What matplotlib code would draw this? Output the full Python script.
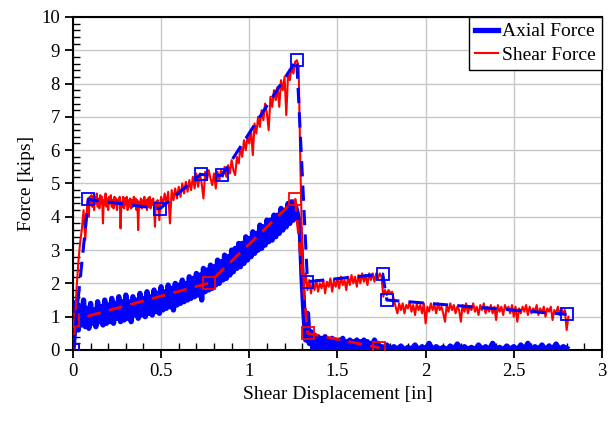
import numpy as np
import matplotlib
matplotlib.use("Agg")
import matplotlib.pyplot as plt
import matplotlib.ticker as tck

plt.rcParams['font.family'] = ['Liberation Serif', 'DejaVu Serif']

# raw axial force, typed as segments (x start, x end, readings)
axial_segments = [
    (0.00, 0.09, [0.0, 0.65, 1.45, 0.6, 1.3, 0.75, 1.5, 0.7, 1.25, 0.65]),
    (0.10, 0.19, [1.4, 0.8, 1.2, 0.7, 1.45, 0.85, 1.3, 0.75, 1.5, 0.8]),
    (0.20, 0.29, [1.35, 0.85, 1.55, 0.8, 1.4, 0.95, 1.6, 0.85, 1.45, 0.9]),
    (0.30, 0.39, [1.65, 0.95, 1.45, 0.85, 1.6, 1.05, 1.5, 0.95, 1.7, 1.05]),
    (0.40, 0.49, [1.55, 1.0, 1.75, 1.1, 1.6, 1.05, 1.8, 1.15, 1.7, 1.1]),
    (0.50, 0.59, [1.9, 1.2, 1.75, 1.25, 1.95, 1.3, 1.85, 1.2, 2.0, 1.35]),
    (0.60, 0.69, [1.95, 1.4, 2.1, 1.45, 2.0, 1.5, 2.2, 1.55, 2.15, 1.6]),
    (0.70, 0.79, [2.3, 1.65, 2.25, 1.5, 2.45, 1.75, 2.4, 1.8, 2.55, 1.85]),
    (0.80, 0.89, [2.5, 1.95, 2.7, 2.0, 2.65, 2.1, 2.85, 2.15, 2.8, 2.25]),
    (0.90, 0.99, [3.0, 2.35, 3.05, 2.45, 3.2, 2.5, 3.2, 2.6, 3.4, 2.7]),
    (1.00, 1.09, [3.35, 2.8, 3.55, 2.9, 3.5, 3.0, 3.75, 3.05, 3.7, 3.15]),
    (1.10, 1.19, [3.9, 3.25, 3.9, 3.3, 4.05, 3.4, 4.05, 3.5, 4.25, 3.6]),
    (1.20, 1.29, [4.2, 3.7, 4.4, 3.8, 4.45, 3.9, 4.35, 4.15, 3.9, 3.5]),
    (1.30, 1.33, [2.1, 1.1, 0.3, 1.1]),
    (1.34, 1.75, [0.2, 0.55, 0.05, 0.45, 0.0, 0.4, 0.05, 0.35, 0.0, 0.4, 0.05,
                  0.3, 0.0, 0.35, 0.05, 0.3, -0.05, 0.3, 0.0, 0.35, 0.05, 0.25,
                  0.0, 0.3, -0.05, 0.25, 0.0, 0.3, 0.0, 0.25, -0.05, 0.3, 0.0,
                  0.25, 0.0, 0.2, -0.05, 0.3, 0.0, 0.2, 0.0, 0.1]),
    (1.76, 2.80, [0.05, 0.15, 0.0, 0.1, 0.02, 0.12, 0.0, 0.08, 0.02, 0.15, 0.0,
                  0.1, 0.02, 0.2, 0.0, 0.1, 0.02, 0.08, 0.0, 0.12, 0.02, 0.18,
                  0.0, 0.1, 0.02, 0.08, 0.0, 0.15, 0.02, 0.1, 0.0, 0.2, 0.02,
                  0.08, 0.0, 0.12, 0.02, 0.1, 0.0, 0.15, 0.02, 0.2, 0.0, 0.1,
                  0.02, 0.15, 0.0, 0.12, 0.02, 0.18, 0.0, 0.1, 0.05]),
]

# raw shear force
shear_segments = [
    (0.00, 0.07, [-0.1, 0.5, 1.8, 2.6, 3.2, 3.6, 4.2, 3.3]),
    (0.08, 0.50, [4.3, 4.55, 4.0, 4.6, 4.35, 4.65, 4.3, 4.5, 4.2, 4.6,
                  4.4, 4.7, 4.3, 4.55, 4.25, 4.65, 4.4, 4.6, 3.8, 4.5,
                  4.35, 4.7, 4.3, 4.55, 4.2, 4.6, 4.4, 4.65, 4.3, 4.5,
                  4.25, 4.6, 4.35, 4.55, 4.2, 4.5, 4.4, 4.6, 3.65, 4.45,
                  4.3, 4.6, 4.25, 4.55, 4.35, 4.6, 4.2, 4.5, 4.3, 4.55,
                  4.25, 4.5, 4.3, 4.6, 4.35, 4.55, 4.2, 4.5, 3.6, 4.45,
                  4.3, 4.55, 4.25, 4.5, 4.35, 4.6, 4.3, 4.5, 4.2, 4.55,
                  4.3, 4.6, 4.25, 4.5, 4.35, 4.55, 4.3, 3.7, 4.45, 4.3,
                  4.5, 4.2, 3.9, 4.4, 4.6]),
    (0.51, 0.59, [4.35, 4.7, 4.4, 4.75, 3.8, 4.8, 4.5, 4.85, 4.55]),
    (0.60, 0.69, [4.9, 4.6, 5.0, 4.7, 5.05, 4.75, 5.1, 4.8, 5.2, 4.85]),
    (0.70, 0.79, [5.3, 4.9, 5.3, 5.0, 4.55, 5.35, 5.1, 5.4, 5.15, 4.95]),
    (0.80, 0.89, [5.3, 4.85, 5.35, 5.1, 5.4, 5.2, 5.5, 5.2, 5.55, 5.3]),
    (0.90, 0.99, [5.7, 5.4, 5.25, 5.8, 5.6, 6.1, 5.8, 6.3, 6.0, 6.4]),
    (1.00, 1.09, [6.2, 6.6, 5.85, 6.8, 6.5, 7.0, 6.7, 7.2, 6.9, 7.4]),
    (1.10, 1.19, [7.1, 6.6, 7.6, 7.3, 7.8, 7.5, 7.9, 7.3, 8.1, 7.8]),
    (1.20, 1.27, [8.2, 7.05, 8.3, 8.1, 8.5, 8.3, 8.65, 8.7]),
    (1.28, 1.31, [8.5, 5.5, 3.0, 1.9]),
    (1.32, 1.75, [2.3, 1.8, 2.1, 1.7, 2.05, 1.8, 2.1, 1.75, 2.0, 1.85, 2.1,
                  1.7, 2.05, 1.9, 2.15, 1.75, 2.1, 1.9, 2.15, 1.85, 2.2, 1.95,
                  2.1, 1.8, 2.2, 1.95, 2.25, 2.0, 2.2, 1.9, 2.25, 2.0, 2.3,
                  2.05, 2.25, 1.95, 2.3, 2.1, 2.3, 2.05, 2.3, 2.15, 2.3, 2.2]),
    (1.76, 1.85, [1.6, 1.8, 1.65, 1.8, 1.7, 1.75, 1.5, 1.3, 1.1, 1.4]),
    (1.86, 2.78, [1.2, 1.4, 1.1, 1.35, 1.25, 1.45, 1.15, 1.35, 1.05, 1.4,
                  1.2, 1.35, 1.1, 1.4, 0.8, 1.3, 1.15, 1.4, 1.2, 1.35,
                  1.1, 1.4, 1.2, 1.3, 1.1, 0.85, 1.35, 1.15, 1.4, 1.2,
                  1.35, 1.1, 1.3, 1.2, 0.85, 1.35, 1.15, 1.4, 1.1, 1.3,
                  1.2, 1.4, 1.15, 1.3, 1.05, 1.35, 1.2, 1.4, 1.1, 1.3,
                  1.15, 1.35, 1.1, 1.3, 0.9, 1.35, 1.15, 1.3, 1.05, 1.35,
                  1.2, 1.3, 1.1, 1.35, 1.0, 1.3, 0.85, 1.25, 1.1, 1.3,
                  1.15, 1.35, 1.05, 1.3, 1.1, 1.25, 1.15, 1.35, 1.05, 1.25,
                  1.1, 1.3, 1.0, 1.25, 1.15, 1.3, 0.9, 1.2, 1.1, 1.3,
                  1.05, 1.25, 1.1]),
    (2.79, 2.81, [1.2, 0.6, 1.0]),
]

# bilinear fits with marked points
shear_fit_x = [0.0, 0.087, 0.493, 0.724, 0.845, 1.269, 1.33, 1.757, 1.78, 2.80]
shear_fit_y = [0.0, 4.52, 4.24, 5.27, 5.24, 8.72, 2.05, 2.28, 1.5, 1.07]
axial_fit_x = [0.0, 0.003, 0.771, 1.261, 1.331, 1.736]
axial_fit_y = [0.0, 0.9, 2.01, 4.52, 0.5, 0.07]


def build(segments):
    xs, ys = [], []
    for x0, x1, vals in segments:
        xs.append(np.linspace(x0, x1, len(vals)))
        ys.append(np.array(vals))
    return np.concatenate(xs), np.concatenate(ys)


ax_x, ax_y = build(axial_segments)
sh_x, sh_y = build(shear_segments)

fig = plt.figure(figsize=(6.08, 4.23), dpi=100)
ax = fig.add_axes([0.120, 0.1726, 0.870, 0.7874])

ax.plot(ax_x, ax_y, color="#0000ff", lw=3.8, label="Axial Force", zorder=3)
ax.plot(sh_x, sh_y, color="#ff0000", lw=1.5, label="Shear Force", zorder=4)
ax.plot(axial_fit_x, axial_fit_y, color="#ff0000", lw=2, dashes=(5, 3),
        marker="s", ms=9, mfc="none", mec="#ff0000", mew=1.3, zorder=5)
ax.plot(shear_fit_x, shear_fit_y, color="#0000ff", lw=2.2, dashes=(5, 3),
        marker="s", ms=9, mfc="none", mec="#0000ff", mew=1.3, zorder=6)

ax.set_xlim(0, 3)
ax.set_ylim(0, 10)
ax.xaxis.set_major_locator(tck.MultipleLocator(0.5))
ax.xaxis.set_minor_locator(tck.MultipleLocator(0.1))
ax.yaxis.set_major_locator(tck.MultipleLocator(1))
ax.yaxis.set_minor_locator(tck.MultipleLocator(0.2))
ax.xaxis.set_major_formatter(tck.FuncFormatter(lambda v, p: f"{v:g}"))
ax.tick_params(which="major", direction="out", length=6, width=1.3, labelsize=13.5)
ax.tick_params(which="minor", direction="in", length=5, width=1.0)

ax.grid(which="major", color="#c8c8c8", lw=1)
ax.set_axisbelow(True)
for s in ax.spines.values():
    s.set_linewidth(1.5)
    s.set_color("black")

ax.set_xlabel("Shear Displacement [in]", fontsize=14, labelpad=4)
ax.set_ylabel("Force [kips]", fontsize=14, labelpad=4)

leg = ax.legend(loc="upper right", fontsize=14, frameon=True, fancybox=False,
                borderaxespad=0, handlelength=1.2, handletextpad=0.2,
                borderpad=0.3, labelspacing=0.3)
leg.get_frame().set_edgecolor("black")
leg.get_frame().set_linewidth(1.0)
leg.get_frame().set_alpha(1)

fig.savefig("out.png", dpi=100)
